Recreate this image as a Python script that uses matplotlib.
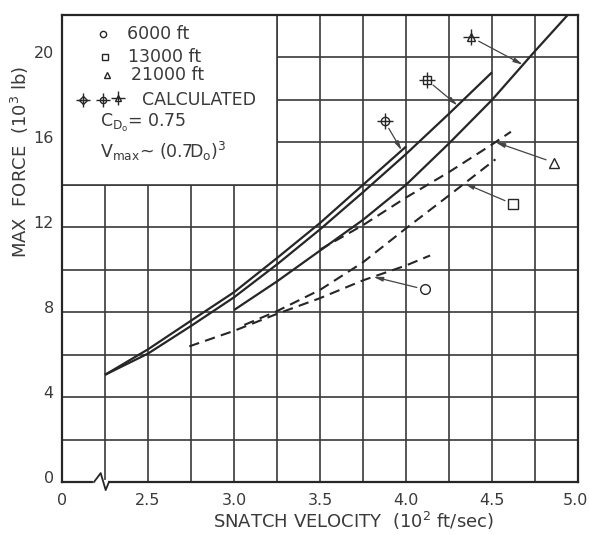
import numpy as np
import matplotlib
matplotlib.use("Agg")
import matplotlib.pyplot as plt
from matplotlib.transforms import ScaledTranslation
from matplotlib.patches import Rectangle

# ---------------- data ----------------
# solid curves: calculated max force
calc6k_v = [2.25, 2.5, 2.75, 3.0, 3.25, 3.5, 3.75, 4.0]
calc6k_f = [5.05, 6.25, 7.6, 8.94, 10.55, 12.2, 14.0, 15.8]
calc13k_v = [2.25, 2.5, 2.75, 3.0, 3.25, 3.5, 3.75, 4.0, 4.25, 4.5]
calc13k_f = [5.05, 6.05, 7.35, 8.7, 10.25, 11.9, 13.65, 15.45, 17.35, 19.3]
calc21k_v = [3.0, 3.25, 3.5, 3.75, 4.0, 4.25, 4.5, 4.75, 4.94]
calc21k_f = [8.1, 9.45, 10.9, 12.35, 14.0, 15.95, 18.0, 20.3, 22.0]
# dashed curves: altitude test fits
test6k_v = [2.74, 3.0, 3.25, 3.5, 3.75, 4.0, 4.14]
test6k_f = [6.39, 7.12, 7.92, 8.66, 9.5, 10.2, 10.67]
test13k_v = [3.06, 3.25, 3.5, 3.75, 4.0, 4.25, 4.52]
test13k_f = [7.4, 8.05, 9.05, 10.35, 11.95, 13.5, 15.2]
test21k_v = [3.5, 3.75, 4.0, 4.25, 4.5, 4.61]
test21k_f = [10.95, 12.1, 13.4, 14.6, 15.9, 16.5]
# calculated points (6000, 13000, 21000 ft)
point_v = [3.875, 4.12, 4.38]
point_f = [17.0, 18.95, 20.95]

x_ticks = [2.0, 2.5, 3.0, 3.5, 4.0, 4.5, 5.0]
x_ticklabels = ["0", "2.5", "3.0", "3.5", "4.0", "4.5", "5.0"]
y_ticks = [0, 4, 8, 12, 16, 20]
y_ticklabels = ["0", "4", "8", "12", "16", "20"]
legend_labels = ["6000 ft", "13000 ft", "21000 ft", "CALCULATED"]

# ---------------- style ----------------
ink = "#262626"
grid_c = "#3a3a3a"
txt_c = "#3a3a3a"
plt.rcParams["font.family"] = ["DejaVu Sans"]
plt.rcParams["mathtext.fontset"] = "dejavusans"
plt.rcParams["mathtext.default"] = "regular"

fig = plt.figure(figsize=(5.89, 5.35), dpi=100)
ax = fig.add_axes([62 / 589, 1 - 482 / 535, (578 - 62) / 589, (482 - 15) / 535])
ax.set_xlim(2.0, 5.0)
ax.set_ylim(0, 22)

ax.set_xticks(x_ticks)
ax.set_xticklabels(x_ticklabels)
ax.set_xticks(np.arange(2.25, 5.0, 0.5), minor=True)
ax.set_yticks(y_ticks)
ax.set_yticklabels(y_ticklabels)
ax.set_yticks([2, 6, 10, 14, 18], minor=True)
ax.tick_params(which="both", length=0, colors=txt_c, labelsize=11.5)
ax.tick_params(axis="x", pad=8)
ax.tick_params(axis="y", pad=6)
ax.grid(True, which="both", color=grid_c, lw=1.2)
ax.set_axisbelow(True)
for s in ax.spines.values():
    s.set_color(ink)
    s.set_linewidth(1.6)
for lab in ax.get_yticklabels():
    lab.set_transform(lab.get_transform() + ScaledTranslation(0, 5 / 100, fig.dpi_scale_trans))
last = ax.get_xticklabels()[-1]
last.set_transform(last.get_transform() + ScaledTranslation(-3 / 100, 0, fig.dpi_scale_trans))

# axis break on the x axis
ax.plot([2.19, 2.255], [0, 0], color="white", lw=3, zorder=5, clip_on=False)
ax.plot([2.186, 2.225, 2.254, 2.273], [0, 0.42, -0.38, 0], color=ink, lw=1.3,
        zorder=6, clip_on=False)

# legend box (white panel over the grid)
ax.add_patch(Rectangle((2.0, 14), 1.25, 8, facecolor="white", edgecolor=grid_c,
                       lw=1.2, zorder=1.5))

# curves
for v, f in [(calc6k_v, calc6k_f), (calc13k_v, calc13k_f), (calc21k_v, calc21k_f)]:
    ax.plot(v, f, color=ink, lw=1.6, zorder=3, solid_capstyle="butt")
for v, f in [(test6k_v, test6k_f), (test13k_v, test13k_f), (test21k_v, test21k_f)]:
    ax.plot(v, f, color=ink, lw=1.5, dashes=(5, 3), zorder=3)

arrow = dict(arrowstyle="-|>,head_length=0.55,head_width=0.13", color="#444444",
             lw=0.9, shrinkA=6, shrinkB=0)

# calculated points with leaders
bases = ["o", "s", "^"]
curves = [(calc6k_v, calc6k_f), (calc13k_v, calc13k_f), (calc21k_v, calc21k_f)]
tips_v = [3.975, 4.30, 4.68]
for i in range(3):
    ax.plot(point_v[i], point_f[i], marker=bases[i], ms=6, mfc="white", mec=ink,
            mew=1.0, ls="none", zorder=7)
    ax.plot(point_v[i], point_f[i], marker="+", ms=12, mec=ink, mew=1.0, ls="none", zorder=8)
    cv, cf = curves[i]
    ax.annotate("", xy=(tips_v[i], np.interp(tips_v[i], cv, cf)),
                xytext=(point_v[i], point_f[i]), arrowprops=arrow, zorder=6)

# altitude labels with leaders to the dashed curves
alt_pos = [(4.11, 9.07), (4.62, 13.1), (4.86, 15.05)]
alt_tip_v = [3.81, 4.34, 4.52]
tcurves = [(test6k_v, test6k_f), (test13k_v, test13k_f), (test21k_v, test21k_f)]
for i in range(3):
    px, py = alt_pos[i]
    ax.plot(px, py, marker=bases[i], ms=7, mfc="white", mec=ink, mew=1.0, ls="none", zorder=7)
    tv, tf = tcurves[i]
    ax.annotate("", xy=(alt_tip_v[i], np.interp(alt_tip_v[i], tv, tf)), xytext=(px, py),
                arrowprops=arrow, zorder=6)

# legend content
T = ax.transAxes
leg_rows = [(0.080, 0.9587), (0.083, 0.9107), (0.0866, 0.8715)]
leg_tx = [0.1254, 0.128, 0.134]
for i in range(3):
    ax.plot(leg_rows[i][0], leg_rows[i][1], marker=bases[i], ms=4.5, mfc="white",
            mec=ink, mew=1.0, transform=T, zorder=7, clip_on=False)
    ax.text(leg_tx[i], leg_rows[i][1], legend_labels[i], transform=T, ha="left",
            va="center", fontsize=12.5, color=txt_c, zorder=7)
calc_leg = [(0.040, 0.818, "D"), (0.080, 0.818, "o"), (0.109, 0.822, "^")]
for x, y, m in calc_leg:
    ax.plot(x, y, marker=m, ms=4.5, mfc="white", mec=ink, mew=1.0, transform=T, zorder=7)
    ax.plot(x, y, marker="+", ms=10, mec=ink, mew=1.0, transform=T, zorder=8)
ax.text(0.1545, 0.818, legend_labels[3], transform=T, ha="left", va="center",
        fontsize=12.5, color=txt_c, zorder=7)
ax.text(0.0736, 0.768, r"C$_{D_o}$= 0.75", transform=T, ha="left", va="center",
        fontsize=12.5, color=txt_c, zorder=7)
ax.text(0.0736, 0.707, r"V$_{max}$~ (0.7D$_o$)$^3$", transform=T, ha="left",
        va="center", fontsize=12.5, color=txt_c, zorder=7)

# axis labels
ax.text(0.564, -0.0835, r"SNATCH VELOCITY  (10$^2$ ft/sec)", transform=T,
        ha="center", va="center", fontsize=13, color=txt_c)
ax.text(-0.081, 0.685, r"MAX  FORCE  (10$^3$ lb)", transform=T, rotation=90,
        ha="center", va="center", fontsize=13, color=txt_c)

fig.savefig("out.png", dpi=100, facecolor="white")
